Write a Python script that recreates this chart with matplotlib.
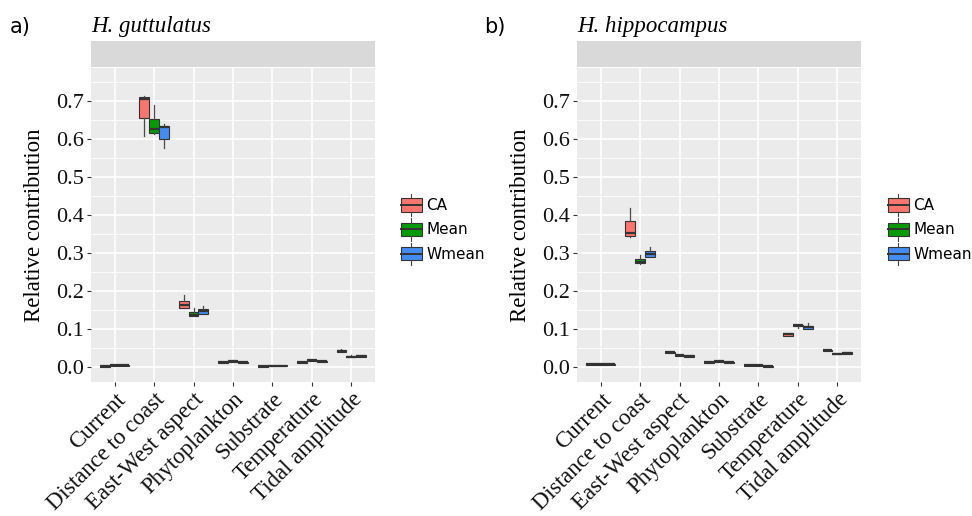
import matplotlib
matplotlib.use("Agg")
import matplotlib.pyplot as plt
from matplotlib.patches import Patch, Rectangle
from matplotlib.lines import Line2D
from matplotlib.legend_handler import HandlerBase
import numpy as np

# ---------------- data ----------------
categories = ["Current", "Distance to coast", "East-West aspect", "Phytoplankton",
              "Substrate", "Temperature", "Tidal amplitude"]
methods = ["CA", "Mean", "Wmean"]
method_colors = ["#F8766D", "#069B06", "#448CF2"]
panel_titles = ["H. guttulatus", "H. hippocampus"]
panel_tags = ["a)", "b)"]
y_ticks = [0.0, 0.1, 0.2, 0.3, 0.4, 0.5, 0.6, 0.7]

# each tuple: (whisker low, Q1, median, Q3, whisker high)
gutt_CA = [(0.002, 0.002, 0.003, 0.004, 0.004), (0.608, 0.654, 0.705, 0.709, 0.713),
           (0.156, 0.156, 0.163, 0.174, 0.189), (0.012, 0.012, 0.013, 0.014, 0.015),
           (0.002, 0.002, 0.003, 0.004, 0.004), (0.012, 0.012, 0.013, 0.014, 0.015),
           (0.041, 0.041, 0.043, 0.046, 0.047)]
gutt_Mean = [(0.004, 0.004, 0.005, 0.006, 0.006), (0.613, 0.615, 0.626, 0.653, 0.689),
             (0.134, 0.134, 0.137, 0.146, 0.156), (0.015, 0.015, 0.016, 0.017, 0.018),
             (0.003, 0.003, 0.004, 0.005, 0.005), (0.017, 0.017, 0.018, 0.019, 0.020),
             (0.027, 0.027, 0.028, 0.030, 0.031)]
gutt_Wmean = [(0.004, 0.004, 0.005, 0.006, 0.006), (0.576, 0.599, 0.630, 0.634, 0.639),
              (0.139, 0.141, 0.148, 0.154, 0.160), (0.012, 0.012, 0.013, 0.014, 0.015),
              (0.003, 0.003, 0.004, 0.005, 0.006), (0.015, 0.015, 0.016, 0.017, 0.017),
              (0.028, 0.028, 0.030, 0.032, 0.033)]

hipp_CA = [(0.007, 0.007, 0.008, 0.009, 0.009), (0.342, 0.345, 0.352, 0.385, 0.419),
           (0.038, 0.038, 0.039, 0.040, 0.040), (0.012, 0.012, 0.013, 0.014, 0.014),
           (0.004, 0.004, 0.005, 0.006, 0.006), (0.083, 0.083, 0.087, 0.090, 0.091),
           (0.043, 0.044, 0.045, 0.046, 0.048)]
hipp_Mean = [(0.007, 0.007, 0.008, 0.009, 0.009), (0.271, 0.273, 0.276, 0.285, 0.294),
             (0.030, 0.030, 0.031, 0.032, 0.032), (0.014, 0.014, 0.016, 0.017, 0.018),
             (0.004, 0.004, 0.005, 0.006, 0.006), (0.103, 0.108, 0.110, 0.112, 0.112),
             (0.035, 0.035, 0.036, 0.037, 0.037)]
hipp_Wmean = [(0.007, 0.007, 0.008, 0.009, 0.009), (0.289, 0.289, 0.298, 0.305, 0.317),
              (0.027, 0.027, 0.029, 0.032, 0.032), (0.012, 0.012, 0.013, 0.014, 0.014),
              (0.002, 0.002, 0.003, 0.004, 0.004), (0.100, 0.100, 0.105, 0.109, 0.116),
              (0.035, 0.036, 0.038, 0.040, 0.040)]

panels_data = [[gutt_CA, gutt_Mean, gutt_Wmean], [hipp_CA, hipp_Mean, hipp_Wmean]]

# ---------------- layout ----------------
W, H = 972, 516
fig = plt.figure(figsize=(W / 100, H / 100), dpi=100)
SERIF = ["Liberation Serif", "DejaVu Serif"]

def fx(px):
    return px / W

def fy(py):
    return 1 - py / H

panel_left = [91, 577]
panel_w = 284
panel_top, panel_bot = 68, 382
strip_top, strip_bot = 41, 67
legend_left = [401, 888]
tag_x = [10, 484]


class BoxHandler(HandlerBase):
    def create_artists(self, legend, orig_handle, xdescent, ydescent, width, height,
                       fontsize, trans):
        x0, y0 = -xdescent, -ydescent
        fc = orig_handle.get_facecolor()
        rect = Rectangle((x0, y0 + 0.2 * height), width, 0.6 * height, facecolor=fc,
                         edgecolor="#333333", linewidth=0.8, transform=trans)
        xm = x0 + width / 2
        w1 = Line2D([xm, xm], [y0, y0 + 0.2 * height], color="#444444", lw=0.8, transform=trans)
        w2 = Line2D([xm, xm], [y0 + 0.8 * height, y0 + height], color="#444444", lw=0.8, transform=trans)
        med = Line2D([x0, x0 + width], [y0 + 0.5 * height] * 2, color="#333333", lw=1.4, transform=trans)
        return [rect, w1, w2, med]


offsets = [-0.25, 0.0, 0.25]
xpos = np.arange(1, len(categories) + 1)

for p in range(2):
    ax = fig.add_axes([fx(panel_left[p]), fy(panel_bot), fx(panel_w),
                       (panel_bot - panel_top) / H])
    ax.set_facecolor("#EBEBEB")
    ax.set_axisbelow(True)
    for m, mname in enumerate(methods):
        stats = []
        for (lo, q1, med, q3, hi) in panels_data[p][m]:
            stats.append(dict(whislo=lo, q1=q1, med=med, q3=q3, whishi=hi, fliers=[]))
        ax.bxp(stats, positions=xpos + offsets[m], widths=0.25, patch_artist=True,
               showcaps=False, showfliers=False, manage_ticks=False,
               boxprops=dict(facecolor=method_colors[m], edgecolor="#333333", linewidth=0.8),
               medianprops=dict(color="#333333", linewidth=1.6),
               whiskerprops=dict(color="#4A4A4A", linewidth=0.9))
    ax.set_xlim(0.4, 7.6)
    ax.set_ylim(-0.0386, 0.786)
    ax.set_yticks(y_ticks)
    ax.set_yticklabels([f"{v:.1f}" for v in y_ticks], fontfamily=SERIF, fontsize=16,
                       color="#111111")
    ax.set_yticks(np.arange(0.05, 0.8, 0.1), minor=True)
    ax.set_xticks(xpos)
    ax.set_xticklabels(categories, rotation=45, ha="right", va="top",
                       rotation_mode="anchor", fontfamily=SERIF, fontsize=16.5,
                       color="#111111")
    ax.grid(which="major", color="white", linewidth=1.2)
    ax.grid(which="minor", axis="y", color="white", linewidth=0.6)
    ax.tick_params(which="major", length=3, width=0.8, color="#333333", pad=2)
    ax.tick_params(which="minor", length=0)
    for s in ax.spines.values():
        s.set_visible(False)
    ax.set_ylabel("Relative contribution", fontfamily=SERIF, fontsize=16.5, labelpad=8)

    # strip
    sax = fig.add_axes([fx(panel_left[p]), fy(strip_bot), fx(panel_w),
                        (strip_bot - strip_top) / H])
    sax.set_facecolor("#D9D9D9")
    sax.set_xticks([])
    sax.set_yticks([])
    for s in sax.spines.values():
        s.set_visible(False)

    fig.text(fx(panel_left[p]), fy(32), panel_titles[p], fontfamily=SERIF,
             style="italic", fontsize=16.5, ha="left", va="baseline")
    fig.text(fx(tag_x[p]), fy(33), panel_tags[p], fontfamily="DejaVu Sans",
             fontsize=15, ha="left", va="baseline")

    handles = [Patch(facecolor=c) for c in method_colors]
    fig.legend(handles, methods, handler_map={Patch: BoxHandler()},
               loc="upper left", bbox_to_anchor=(fx(legend_left[p]), fy(194)),
               frameon=False, handlelength=1.37, handleheight=1.86,
               labelspacing=0.14, handletextpad=0.3, borderpad=0, borderaxespad=0,
               prop={"family": "DejaVu Sans", "size": 11})

fig.savefig("out.png", dpi=100)
